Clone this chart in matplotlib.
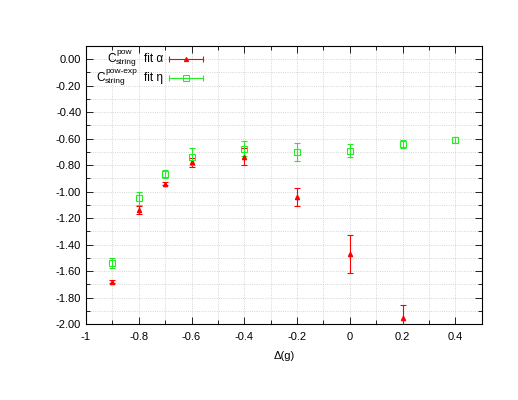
import matplotlib.pyplot as plt
from matplotlib.ticker import MultipleLocator

# pow fit alpha (red)
x_pow = [-0.9, -0.8, -0.7, -0.6, -0.4, -0.2, 0.0, 0.2]
y_pow = [-1.68, -1.14, -0.94, -0.78, -0.735, -1.04, -1.47, -1.955]
e_pow = [0.01, 0.03, 0.012, 0.035, 0.065, 0.07, 0.145, 0.1]

# pow-exp fit eta (green)
x_exp = [-0.9, -0.8, -0.7, -0.6, -0.4, -0.2, 0.0, 0.2, 0.4]
y_exp = [-1.54, -1.05, -0.865, -0.735, -0.675, -0.70, -0.69, -0.64, -0.61]
e_exp = [0.04, 0.05, 0.03, 0.065, 0.055, 0.065, 0.05, 0.03, 0.02]

# key labels: C^sup_sub fit ...
key_sup = ['pow', 'pow-exp']
key_sub = ['string', 'string']
key_fit = ['fit α', 'fit η']

red = '#ff0000'
green = '#22ee22'

plt.rcParams['font.family'] = ['Liberation Sans', 'DejaVu Sans']
plt.rcParams['font.size'] = 8

fig = plt.figure(figsize=(5.18, 4.0), dpi=100)
ax = fig.add_axes([0.166, 0.19, 0.764, 0.695])

ax.errorbar(x_pow, y_pow, yerr=e_pow, fmt='^', color=red, ms=3,
            elinewidth=0.8, capsize=2.5, capthick=0.8)
ax.errorbar(x_exp, y_exp, yerr=e_exp, fmt='s', color=green, ms=5,
            mfc='none', mew=0.8, elinewidth=0.8, capsize=2.5, capthick=0.8)

ax.set_xlim(-1, 0.5)
ax.set_ylim(-2.0, 0.1)
ax.xaxis.set_minor_locator(MultipleLocator(0.1))
ax.yaxis.set_minor_locator(MultipleLocator(0.1))
ax.set_xticks([-1, -0.8, -0.6, -0.4, -0.2, 0, 0.2, 0.4])
ax.set_xticklabels(['-1', '-0.8', '-0.6', '-0.4', '-0.2', '0', '0.2', '0.4'])
ax.set_yticks([-2.0 + 0.2 * i for i in range(11)])
ax.set_yticklabels(['%.2f' % (-2.0 + 0.2 * i) for i in range(11)])

ax.tick_params(which='both', direction='in', top=True, right=True, width=0.6)
ax.tick_params(which='major', length=5)
ax.tick_params(which='minor', length=3)
ax.tick_params(axis='x', pad=6)
ax.grid(which='both', color='#c8c8c8', linestyle=':', linewidth=0.6)
for s in ax.spines.values():
    s.set_linewidth(0.8)

ax.set_xlabel('Δ(g)', fontsize=8, labelpad=6)

# gnuplot style key, drawn by hand so the text is right aligned
kw = dict(transform=ax.transAxes, va='center')
rows = [(0.953, 0.076, red, '^', 3, red),
        (0.885, 0.048, green, 's', 5, 'none')]
for i, (yk, xs, col, mk, ms, fc) in enumerate(rows):
    ax.text(0.194, yk, key_fit[i], ha='right', fontsize=8.5, **kw)
    ax.text(xs, yk, 'C', ha='right', fontsize=8.5, **kw)
    ax.text(xs, yk + 0.022, key_sup[i], ha='left', fontsize=6, **kw)
    ax.text(xs, yk - 0.011, key_sub[i], ha='left', fontsize=6, **kw)
    ax.plot([0.21, 0.295], [yk, yk], transform=ax.transAxes, color=col,
            lw=0.8, marker='|', ms=5, mew=0.8, clip_on=False)
    ax.plot([0.2525], [yk], transform=ax.transAxes, color=col, marker=mk,
            ms=ms, mfc=fc, mew=0.8, clip_on=False)

plt.savefig('out.png', dpi=100)
